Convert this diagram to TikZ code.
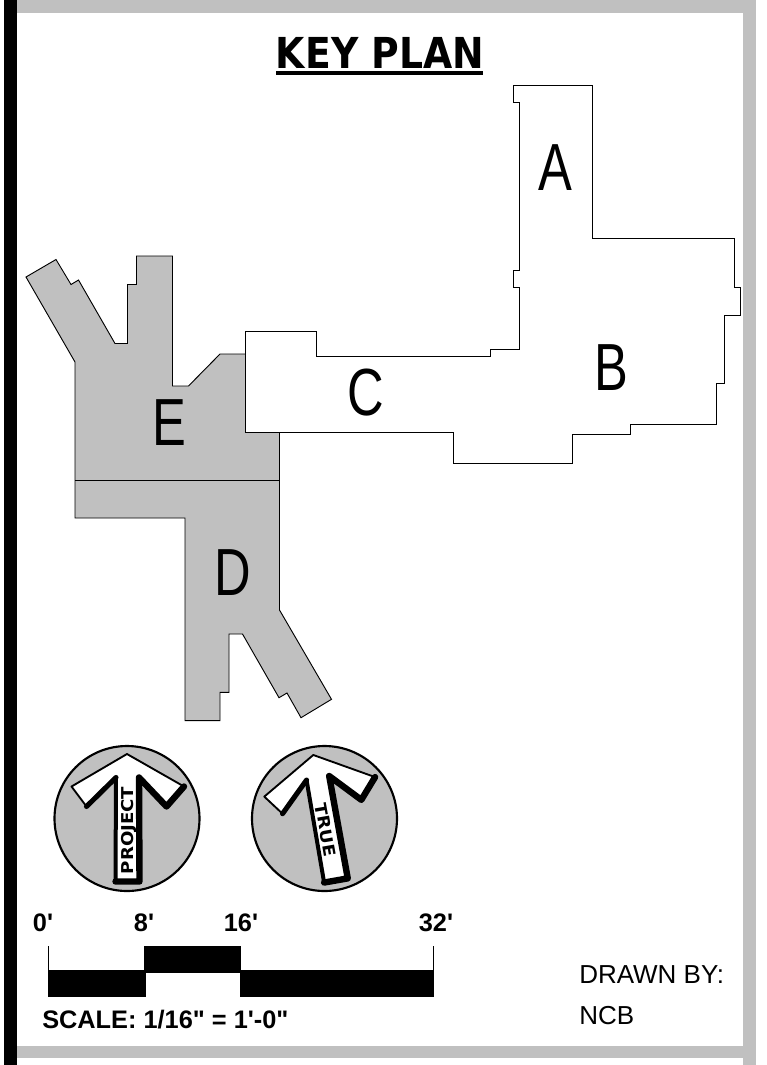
\documentclass[tikz,border=0pt]{standalone}
\usepackage{fontspec}
\setmainfont[Ligatures=TeXOff]{Liberation Sans}
\newfontfamily\heavyfont{DejaVu Sans}
\definecolor{keygray}{HTML}{C0C0C0}
\tikzset{
  px/.style={x=0.75pt,y=-0.75pt},
  plan/.style={draw=black,line width=0.7pt,line join=miter},
  zone/.style={inner sep=0,anchor=center,font=\fontsize{50}{50}\selectfont,xscale=0.76},
  scalelabel/.style={inner sep=0,anchor=base,font=\fontsize{19}{20}\selectfont\bfseries},
  drawnby/.style={inner sep=0,anchor=base west,font=\fontsize{19.5}{20}\selectfont},
  compasstext/.style={inner sep=0,anchor=base,font=\heavyfont\fontsize{13.6}{14}\selectfont\bfseries},
  needle/.pic={
    \fill[white] (0,-64.5) -- (-55.5,-32) -- (-40.5,-12) -- (-11,-41) -- (-11.5,63) -- (12.5,63) -- (12,-41) -- (39.5,-12) -- (57,-32) -- cycle;
    \draw[line width=1.4pt,line join=round] (-40.5,-12) -- (-55.5,-32) -- (0,-64.5) -- (57,-32) -- (39.5,-12);
    \draw[line width=3.8pt,line cap=round,line join=round] (-40.5,-12) -- (-11,-41);
    \draw[line width=3pt,line cap=round] (-11,-41) -- (-11.5,63);
    \draw[line width=4.8pt,line cap=round,line join=round] (-11.5,63) -- (12.5,63) -- (12,-41) -- (39.5,-12) -- (57,-32);
  }
}
\begin{document}
\begin{tikzpicture}[px]
\useasboundingbox (0,0) rectangle (767,1065);
\fill[white] (0,0) rectangle (767,1065);
% frame
\fill[keygray] (17,0) rectangle (756,13);
\fill[keygray] (743,0) rectangle (756,1065);
\fill[keygray] (17,1046) rectangle (756,1058);
\fill[black] (4,0) rectangle (17,1065);
% title
\node[inner sep=0,anchor=base,xscale=0.885,font=\heavyfont\fontsize{32}{32}\selectfont\bfseries] (title) at (380,68) {KEY PLAN};
\fill[black] (276,71) rectangle (483,75);
% gray wings
\draw[plan,fill=keygray] (26,277) -- (56,259.5) -- (71,284.5) -- (78.5,280) -- (115,343.5) -- (127.5,343.5) -- (127.5,284.5) -- (136.5,284.5) -- (136.5,256) -- (172.5,256) -- (172.5,386) -- (188.5,386) -- (220,354) -- (279.5,354) -- (279.5,610) -- (331.5,699.3) -- (301,717.7) -- (287,693) -- (279,697.7) -- (242.5,634) -- (229,634) -- (229,692.3) -- (220,692.3) -- (220,720.7) -- (185,720.7) -- (185,518) -- (75,518) -- (75,362) -- cycle;
\draw[plan] (75,480.7) -- (279.5,480.7);
% white wings
\draw[plan,fill=white] (245.5,331) -- (316.5,331) -- (316.5,356) -- (490,356) -- (490,349.5) -- (519.5,349.5) -- (519.5,287) -- (513,287) -- (513,270.5) -- (519.5,270.5) -- (519.5,102.5) -- (513,102.5) -- (513,85) -- (592,85) -- (592,238) -- (734,238) -- (734,287) -- (740.5,287) -- (740.5,315.5) -- (724.5,315.5) -- (724.5,383) -- (716,383) -- (716,424.5) -- (630,424.5) -- (630,434) -- (572,434) -- (572,463) -- (453,463) -- (453,432.5) -- (245.5,432.5) -- cycle;
% zone letters
\node[zone] (A) at (555,168) {A};
\node[zone] (B) at (611,368) {B};
\node[zone] (C) at (366,393) {C};
\node[zone] (D) at (233,573) {D};
\node[zone] (E) at (169,423) {E};
% compasses
\draw[line width=1.6pt,fill=keygray] (127,818.5) circle (72.5);
\pic at (127,818.5) {needle};
\node[compasstext,rotate=90] (project) at (133,830.5) {\scalebox{1}[0.9]{PROJECT}};
\draw[line width=1.6pt,fill=keygray] (324.5,818.5) circle (72.5);
\pic[rotate=10] at (324.5,818.5) {needle};
\node[compasstext,rotate=-80] (true) at (319.6,831) {\scalebox{1}[0.9]{TRUE}};
% scale bar
\fill[black] (48,970) rectangle (146,997);
\fill[black] (144,946) rectangle (241,973);
\fill[black] (240,970) rectangle (434,997);
\draw[line width=0.6pt] (48.5,946) -- (48.5,970);
\draw[line width=0.6pt] (433,946) -- (433,970);
\node[scalelabel] (s0) at (43,931) {0'};
\node[scalelabel] (s8) at (144,931) {8'};
\node[scalelabel] (s16) at (241,931) {16'};
\node[scalelabel] (s32) at (436,931) {32'};
\node[scalelabel,anchor=base west] (scale) at (42,1028) {SCALE: 1/16" = 1'-0"};
\node[drawnby] (drawn) at (579,983) {DRAWN BY:};
\node[drawnby] (ncb) at (579,1024) {NCB};
\end{tikzpicture}
\end{document}
